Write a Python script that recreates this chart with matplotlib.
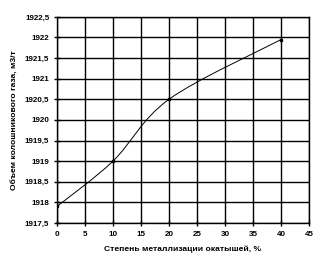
import numpy as np
import matplotlib.pyplot as plt
from matplotlib.path import Path
from matplotlib.patches import PathPatch
from matplotlib.ticker import FuncFormatter

# data
metallization = [0, 10, 20, 40]            # %
gas_volume = [1917.9, 1919.0, 1920.5, 1921.95]  # m3/t

x_ticks = np.arange(0, 50, 5)
y_ticks = np.arange(1917.5, 1922.6, 0.5)

plt.rcParams['font.family'] = ['Liberation Sans', 'DejaVu Sans']

fig = plt.figure(figsize=(3.25, 2.68), dpi=100)
fig.patch.set_facecolor('white')
ax = fig.add_axes([0.175, 0.168, 0.776, 0.769])

# smoothed line like a spreadsheet "smooth" series (Catmull-Rom -> Bezier)
px = np.array(metallization, float)
py = np.array(gas_volume, float)
verts = [(px[0], py[0])]
codes = [Path.MOVETO]
n = len(px)
for i in range(n - 1):
    p0 = (px[max(i - 1, 0)], py[max(i - 1, 0)])
    p1 = (px[i], py[i])
    p2 = (px[i + 1], py[i + 1])
    p3 = (px[min(i + 2, n - 1)], py[min(i + 2, n - 1)])
    c1 = (p1[0] + (p2[0] - p0[0]) / 6, p1[1] + (p2[1] - p0[1]) / 6)
    c2 = (p2[0] - (p3[0] - p1[0]) / 6, p2[1] - (p3[1] - p1[1]) / 6)
    verts += [c1, c2, p2]
    codes += [Path.CURVE4] * 3
ax.add_patch(PathPatch(Path(verts, codes), fill=False, ec='black', lw=0.7, zorder=3))
ax.plot(metallization, gas_volume, ls='none', marker='s', ms=2, color='black', zorder=4)

ax.set_xlim(0, 45)
ax.set_ylim(1917.5, 1922.5)
ax.set_xticks(x_ticks)
ax.set_yticks(y_ticks)
ax.grid(True, color='black', lw=1)
for s in ax.spines.values():
    s.set_linewidth(1)
    s.set_color('black')

ax.tick_params(direction='inout', length=5, width=1, labelsize=5.8, pad=3)
ax.xaxis.set_major_formatter(FuncFormatter(lambda v, p: f'{v:g}'))
ax.yaxis.set_major_formatter(FuncFormatter(lambda v, p: f'{v:g}'.replace('.', ',')))
for lab in ax.get_xticklabels() + ax.get_yticklabels():
    lab.set_fontweight('bold')

ax.set_xlabel('Степень металлизации окатышей, %', fontsize=6.1, fontweight='bold', labelpad=6)
ax.set_ylabel('Объем колошникового газа, м3/т', fontsize=6.1, fontweight='bold', labelpad=5)

fig.savefig('out.png', dpi=100, facecolor='white')
